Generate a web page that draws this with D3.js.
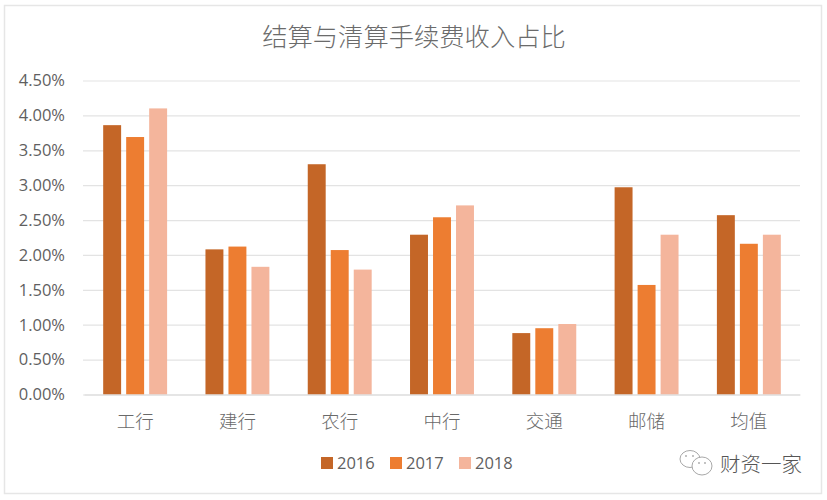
<!DOCTYPE html>
<html><head><meta charset="utf-8">
<script src="https://cdn.jsdelivr.net/npm/d3@7/dist/d3.min.js"></script>
<style>html,body{margin:0;padding:0;background:#fff}svg{display:block}</style>
</head><body><div id="c"></div>
<script>
const categories = ["工行","建行","农行","中行","交通","邮储","均值"];
const years = ["2016","2017","2018"];
const v2016 = [3.86,2.08,3.30,2.29,0.88,2.97,2.57];
const v2017 = [3.69,2.12,2.07,2.54,0.95,1.57,2.16];
const v2018 = [4.10,1.83,1.79,2.71,1.01,2.29,2.29];
const yTicks = [0,0.5,1,1.5,2,2.5,3,3.5,4,4.5];
const colors = ["#c46627","#ed7d31","#f4b59c"];
const title = "结算与清算手续费收入占比";
const watermark = "财资一家";
const seriesValues = [v2016,v2017,v2018];

const W=827,H=500;
const cjk='"Noto Sans CJK SC","Noto Sans",sans-serif';
const latin='"Open Sans","Noto Sans",sans-serif';
const svg=d3.select("#c").append("svg").attr("width",W).attr("height",H);
svg.append("rect").attr("x",4.5).attr("y",5.5).attr("width",817).attr("height",488)
  .attr("fill","#fff").attr("stroke","#e6e6e6").attr("stroke-width",1.5);

const x0=d3.scaleBand().domain(categories).range([84,800]).paddingInner(0.375).paddingOuter(0.1875);
const x1=d3.scaleBand().domain(years).range([0,x0.bandwidth()]).paddingInner(0.22);
const y=d3.scaleLinear().domain([0,4.5]).range([394.5,80.5]);

svg.append("text").attr("x",414).attr("y",46).attr("text-anchor","middle")
  .attr("font-family",cjk).attr("font-size",25.3).attr("font-weight",300).attr("fill","#6b6b6b").text(title);

const gy=svg.append("g").attr("transform","translate(83,0)")
  .call(d3.axisLeft(y).tickValues(yTicks).tickSize(0).tickPadding(18).tickFormat(d=>d.toFixed(2)+"%"));
gy.select(".domain").remove();
gy.selectAll("text").attr("font-family",latin).attr("font-size",16.5).attr("fill","#5f5f5f");
gy.selectAll("line").attr("x2",717).attr("stroke","#e3e3e3").attr("stroke-width",1.2);

const groups=svg.append("g").selectAll("g").data(categories).join("g")
  .attr("transform",d=>`translate(${x0(d)},0)`);
groups.selectAll("rect").data((d,i)=>years.map((yr,k)=>({yr,k,v:seriesValues[k][i]}))).join("rect")
  .attr("x",d=>x1(d.yr)).attr("width",x1.bandwidth())
  .attr("y",d=>y(d.v)).attr("height",d=>y(0)-y(d.v)).attr("fill",d=>colors[d.k]);

const gx=svg.append("g").attr("transform","translate(0,394.5)")
  .call(d3.axisBottom(x0).tickSize(0).tickPadding(20));
gx.select(".domain").attr("stroke","#d9d9d9").attr("stroke-width",1.2);
gx.selectAll("text").attr("font-family",cjk).attr("font-size",18.5).attr("font-weight",300).attr("fill","#6a6a6a");

const lx=d3.scalePoint().domain(years).range([321,459]);
const leg=svg.append("g").selectAll("g").data(years).join("g").attr("transform",d=>`translate(${lx(d)},457)`);
leg.append("rect").attr("width",12).attr("height",12).attr("fill",(d,i)=>colors[i]);
leg.append("text").attr("x",16).attr("y",12).attr("font-family",latin).attr("font-size",16.5).attr("fill","#5f5f5f").text(d=>d);

// watermark
const wm=svg.append("g").attr("fill","none").attr("stroke","#a8a8a8").attr("stroke-width",1);
wm.append("ellipse").attr("cx",690).attr("cy",459).attr("rx",10).attr("ry",8.5);
wm.append("ellipse").attr("cx",702).attr("cy",466).attr("rx",10).attr("ry",9).attr("fill","#fff");
wm.append("g").selectAll("circle").data([[686,456],[693,456],[699,463],[705,463]]).join("circle")
  .attr("cx",d=>d[0]).attr("cy",d=>d[1]).attr("r",0.9).attr("fill","#a8a8a8").attr("stroke","none");
svg.append("text").attr("x",720).attr("y",472).attr("font-family",cjk).attr("font-size",20.5).attr("font-weight",300).attr("fill","#555").text(watermark);
</script></body></html>
